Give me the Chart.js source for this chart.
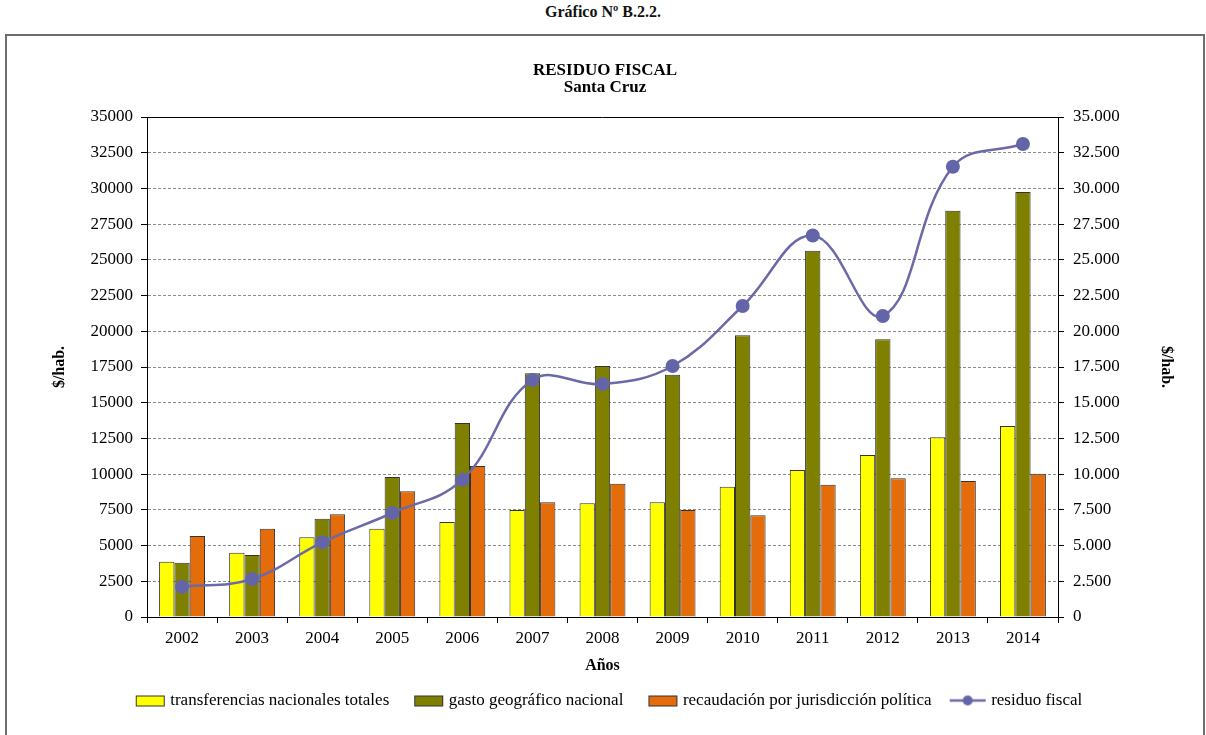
<!DOCTYPE html>
<html>
<head>
<meta charset="utf-8">
<script src="https://cdn.jsdelivr.net/npm/chart.js@4/dist/chart.umd.min.js"></script>
<style>
    html, body { margin: 0; padding: 0; background: #fff; overflow: hidden; }
    #caption {
        position: absolute; left: 0; top: 3px; width: 1206px;
        text-align: center; font: bold 16px 'Liberation Serif', serif; color: #111;
    }
    #frame {
        position: absolute; left: 5px; top: 34px; width: 1196px; height: 720px;
        border: 2px solid #6d6d6d; border-bottom: none;
    }
    #box { position: absolute; left: 0; top: 0; width: 1196px; height: 699px; }
</style>
</head>
<body>
<div id="caption">Gráfico Nº B.2.2.</div>
<div id="frame"><div id="box"><canvas id="chart"></canvas></div></div>

<script>
// ===== Datos =====
const years = ['2002', '2003', '2004', '2005', '2006', '2007', '2008', '2009', '2010', '2011', '2012', '2013', '2014'];
const transferencias = [3870, 4500, 5580, 6180, 6650, 7490, 7960, 8030, 9120, 10290, 11340, 12580, 13370];
const gasto = [3800, 4340, 6880, 9800, 13580, 17060, 17570, 16960, 19720, 25640, 19440, 28440, 29750];
const recaudacion = [5670, 6180, 7190, 8800, 10570, 8030, 9330, 7490, 7120, 9260, 9710, 9520, 10030];
const residuo = [2120, 2660, 5230, 7280, 9610, 16590, 16310, 17570, 21770, 26700, 21070, 31520, 33110];

const seriesNames = ['transferencias nacionales totales', 'gasto geográfico nacional',
    'recaudación por jurisdicción política', 'residuo fiscal'];
const colors = ['#FFFF00', '#808000', '#E46C0A', '#6B69A8'];

Chart.defaults.font.family = "'Liberation Serif', 'Times New Roman', serif";
Chart.defaults.color = '#000';

// Iconos de la leyenda (rectángulo o línea con marcador)
const ICON_W = 34;
function makeIcon(kind, color) {
    const c = document.createElement('canvas');
    c.width = ICON_W + 10;
    c.height = 14;
    const g = c.getContext('2d');
    if (kind === 'bar') {
        g.fillStyle = color;
        g.fillRect(c.width - 31, 2, 28, 10);
        g.strokeStyle = '#333';
        g.lineWidth = 1;
        g.strokeRect(c.width - 30.5, 2.5, 28, 10);
    } else {
        g.strokeStyle = color;
        g.lineWidth = 2.5;
        g.beginPath();
        g.moveTo(c.width - 38, 7);
        g.lineTo(c.width - 2, 7);
        g.stroke();
        g.fillStyle = '#6464A8';
        g.beginPath();
        g.arc(c.width - 20, 7, 5, 0, Math.PI * 2);
        g.fill();
    }
    return c;
}
const icons = [makeIcon('bar', colors[0]), makeIcon('bar', colors[1]), makeIcon('bar', colors[2]), makeIcon('line', colors[3])];

// Marco superior del área de trazado
const plotFrame = {
    id: 'plotFrame',
    beforeDatasetsDraw(chart) {
        const { ctx, chartArea: a } = chart;
        ctx.save();
        ctx.strokeStyle = '#000';
        ctx.lineWidth = 1;
        ctx.beginPath();
        ctx.moveTo(a.left, Math.round(a.top) + 0.5);
        ctx.lineTo(a.right, Math.round(a.top) + 0.5);
        ctx.stroke();
        ctx.restore();
    }
};

const dots = v => String(v).replace(/\B(?=(\d{3})+(?!\d))/g, '.');

const barBase = { type: 'bar', borderColor: '#333', borderWidth: 1, categoryPercentage: 0.655, barPercentage: 1.0, order: 1, yAxisID: 'y' };

new Chart(document.getElementById('chart'), {
    data: {
        labels: years,
        datasets: [
            { ...barBase, label: seriesNames[0], data: transferencias, backgroundColor: colors[0] },
            { ...barBase, label: seriesNames[1], data: gasto, backgroundColor: colors[1] },
            { ...barBase, label: seriesNames[2], data: recaudacion, backgroundColor: colors[2] },
            {
                type: 'line', label: seriesNames[3], data: residuo, yAxisID: 'y1', order: 0,
                borderColor: colors[3], borderWidth: 2.5, tension: 0.4,
                pointRadius: 7, pointBackgroundColor: '#6464A8', pointBorderColor: '#6464A8', pointBorderWidth: 0
            }
        ]
    },
    options: {
        responsive: true,
        maintainAspectRatio: false,
        animation: false,
        layout: { padding: { left: 0, right: 0, top: 0, bottom: 16 } },
        plugins: {
            title: {
                display: true,
                text: ['RESIDUO FISCAL', 'Santa Cruz'],
                font: { size: 17, weight: 'bold', lineHeight: 1.0 },
                padding: { top: 26, bottom: 21 }
            },
            legend: {
                position: 'bottom',
                labels: {
                    usePointStyle: true,
                    pointStyleWidth: ICON_W,
                    boxHeight: 10,
                    padding: 17,
                    font: { size: 17 },
                    generateLabels(chart) {
                        const items = Chart.defaults.plugins.legend.labels.generateLabels(chart);
                        items.sort((a, b) => a.datasetIndex - b.datasetIndex);
                        items.forEach(it => { it.pointStyle = icons[it.datasetIndex]; });
                        return items;
                    }
                }
            },
            tooltip: { enabled: false }
        },
        scales: {
            x: {
                grid: { offset: true, drawOnChartArea: false, drawTicks: true, tickLength: 6, tickColor: '#000', color: '#000' },
                border: { color: '#000', width: 1 },
                ticks: { font: { size: 17 }, padding: 5 },
                title: { display: true, text: 'Años', font: { size: 16, weight: 'bold' }, padding: { top: 2, bottom: 0 } },
                afterFit: s => { s.height = 58; }
            },
            y: {
                position: 'left', min: 0, max: 35000,
                ticks: { stepSize: 2500, padding: 8, font: { size: 17 }, callback: v => String(v) },
                grid: { color: '#8c8c8c', tickColor: '#000', tickLength: 6, lineWidth: 1 },
                border: { color: '#000', width: 1, dash: [3, 2] },
                title: { display: true, text: '$/hab.', font: { size: 16, weight: 'bold' }, padding: { top: 43, bottom: 0 } },
                afterFit: s => { s.width = 140; }
            },
            y1: {
                position: 'right', min: 0, max: 35000,
                ticks: { stepSize: 2500, padding: 9, font: { size: 17 }, callback: v => dots(v) },
                grid: { drawOnChartArea: false, tickColor: '#000', tickLength: 6 },
                border: { color: '#000', width: 1 },
                title: { display: true, text: '$/hab.', font: { size: 16, weight: 'bold' }, padding: { top: 27, bottom: 0 } },
                afterFit: s => { s.width = 145; }
            }
        }
    },
    plugins: [plotFrame]
});
</script>
</body>
</html>
